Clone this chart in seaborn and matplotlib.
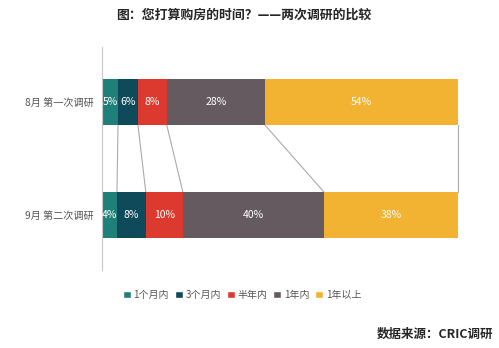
import matplotlib
matplotlib.use("Agg")
import matplotlib.pyplot as plt
import seaborn as sns
import pandas as pd
import numpy as np
from matplotlib.patches import Patch

sns.set_style("white")
plt.rcParams['font.family'] = ['Noto Sans CJK SC', 'DejaVu Sans']

surveys = ["8月 第一次调研", "9月 第二次调研"]
categories = ["1个月内", "3个月内", "半年内", "1年内", "1年以上"]
aug_values = [4.5, 5.6, 8.1, 27.6, 54.2]
sep_values = [4.2, 8.1, 10.4, 39.6, 37.7]
aug_labels = ["5%", "6%", "8%", "28%", "54%"]
sep_labels = ["4%", "8%", "10%", "40%", "38%"]
colors = ["#1f8079", "#0e4a5a", "#dc3a2f", "#655a60", "#f2b232"]

df = pd.DataFrame({"survey": surveys})
cum = np.cumsum([aug_values, sep_values], axis=1)
for i, c in enumerate(categories):
    df[c] = cum[:, i]

fig = plt.figure(figsize=(4.99, 3.48), dpi=100)
ax = fig.add_axes([102 / 499, 1 - 270 / 348, (458 - 102) / 499, 223 / 348])

bar_h = 0.41
for i in range(len(categories) - 1, -1, -1):
    sns.barplot(data=df, y="survey", x=categories[i], orient="h", color=colors[i],
                width=bar_h, saturation=1, ax=ax, linewidth=0)

ax.set_xlim(0, 100)
ax.set_ylim(1.487, -0.487)

# labels
for row, (vals, labs) in enumerate([(aug_values, aug_labels), (sep_values, sep_labels)]):
    left = 0
    for v, lab in zip(vals, labs):
        ax.text(left + v / 2, row, lab, ha="center", va="center", color="white", fontsize=7.5)
        left += v

# connector lines
c1 = np.cumsum(aug_values)
c2 = np.cumsum(sep_values)
for a, b in zip(c1, c2):
    ax.plot([a, b], [0 + bar_h / 2, 1 - bar_h / 2], color="#aaaaaa", lw=0.8, zorder=0,
            clip_on=False)

ax.set_xlabel("")
ax.set_ylabel("")
ax.set_xticks([])
ax.tick_params(axis="y", length=0, labelsize=7.3, labelcolor="#555555", pad=6)
for s in ["top", "right", "bottom"]:
    ax.spines[s].set_visible(False)
ax.spines["left"].set_color("#c8c8c8")
ax.spines["left"].set_linewidth(0.8)

handles = [Patch(facecolor=c, label=l) for c, l in zip(colors, categories)]
fig.legend(handles=handles, loc="center", bbox_to_anchor=(242 / 499, 1 - 295 / 348), ncol=5,
           frameon=False, fontsize=7.2, handlelength=0.8, handleheight=0.8, handletextpad=0.3,
           columnspacing=0.55, labelcolor="#555555")

fig.text(244 / 499, 1 - 15 / 348, "图：您打算购房的时间？——两次调研的比较", ha="center", va="center",
         fontsize=9.3, fontweight="bold")
fig.text(493 / 499, 1 - 334 / 348, "数据来源：CRIC调研", ha="right", va="center",
         fontsize=9, fontweight="bold")

fig.savefig("out.png", dpi=100)
